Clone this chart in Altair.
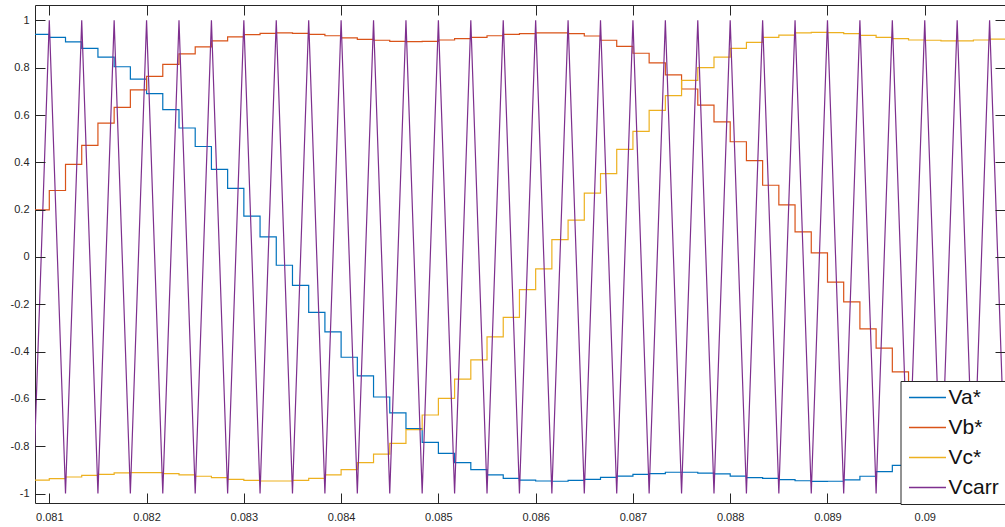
import altair as alt
import numpy as np
import pandas as pd

# Sample clock: the references are held between carrier peaks and valleys
# (3 kHz triangular carrier -> a new sample every 1/6000 s).
T_HALF = 1.0 / 6000.0
T_FIRST = 0.081 - T_HALF

# Held modulating references (third-harmonic injected), one value per sample
va = [0.941, 0.928, 0.909, 0.882, 0.845, 0.804, 0.752, 0.690, 0.623, 0.545,
      0.467, 0.370, 0.290, 0.173, 0.085, -0.035, -0.120, -0.234, -0.317, -0.424,
      -0.503, -0.592, -0.659, -0.726, -0.784, -0.830, -0.869, -0.899, -0.921, -0.936,
      -0.943, -0.947, -0.948, -0.944, -0.940, -0.932, -0.926, -0.919, -0.916, -0.910,
      -0.910, -0.914, -0.917, -0.926, -0.933, -0.936, -0.941, -0.946, -0.949, -0.948,
      -0.942, -0.927, -0.907, -0.881, -0.850, -0.810, -0.765, -0.705, -0.640, -0.570]

vb = [0.199, 0.281, 0.391, 0.472, 0.566, 0.632, 0.706, 0.763, 0.814, 0.858,
      0.888, 0.913, 0.930, 0.940, 0.945, 0.947, 0.945, 0.941, 0.935, 0.926,
      0.920, 0.916, 0.911, 0.910, 0.911, 0.917, 0.923, 0.928, 0.935, 0.941,
      0.944, 0.947, 0.947, 0.944, 0.934, 0.916, 0.890, 0.861, 0.820, 0.770,
      0.710, 0.642, 0.571, 0.487, 0.407, 0.303, 0.220, 0.106, 0.017, -0.106,
      -0.190, -0.304, -0.385, -0.486, -0.570, -0.650, -0.715, -0.775, -0.825, -0.865]

vc = [-0.943, -0.937, -0.930, -0.923, -0.919, -0.913, -0.912, -0.912, -0.916, -0.921,
      -0.927, -0.933, -0.940, -0.944, -0.947, -0.947, -0.944, -0.936, -0.921, -0.899,
      -0.869, -0.833, -0.788, -0.730, -0.668, -0.598, -0.516, -0.435, -0.338, -0.255,
      -0.138, -0.050, 0.073, 0.156, 0.270, 0.352, 0.455, 0.531, 0.620, 0.682,
      0.746, 0.800, 0.845, 0.882, 0.907, 0.928, 0.938, 0.947, 0.949, 0.948,
      0.944, 0.937, 0.928, 0.923, 0.917, 0.916, 0.913, 0.913, 0.917, 0.921]

# Triangular carrier vertices (valley, peak, valley, ...) on the same clock
vcarr = [-1, 1, -1, 1, -1, 1, -1, 1, -1, 1,
         -1, 1, -1, 1, -1, 1, -1, 1, -1, 1,
         -1, 1, -1, 1, -1, 1, -1, 1, -1, 1,
         -1, 1, -1, 1, -1, 1, -1, 1, -1, 1,
         -1, 1, -1, 1, -1, 1, -1, 1, -1, 1,
         -1, 1, -1, 1, -1, 1, -1, 1, -1, 1,
         -1]

series_names = ["Va*", "Vb*", "Vc*", "Vcarr"]
series_colors = ["#0072BD", "#D95319", "#EDB120", "#7E2F8E"]

x_ticks = [0.081, 0.082, 0.083, 0.084, 0.085, 0.086, 0.087, 0.088, 0.089, 0.090]
y_ticks = [-1, -0.8, -0.6, -0.4, -0.2, 0, 0.2, 0.4, 0.6, 0.8, 1]

t_grid = T_FIRST + T_HALF * np.arange(len(vcarr))

ref_rows = []
for name, vals in zip(series_names[:3], [va, vb, vc]):
    held = list(vals) + [vals[-1]]  # close the last hold interval
    for t, v in zip(t_grid, held):
        ref_rows.append({"t": t, "v": v, "series": name})
df_ref = pd.DataFrame(ref_rows)
df_carr = pd.DataFrame({"t": t_grid, "v": vcarr, "series": "Vcarr"})

FONT = "Liberation Sans"
INK = "#262626"

x_scale = alt.Scale(domain=[0.080853, 0.090825], nice=False, zero=False)
y_scale = alt.Scale(domain=[-1.04, 1.065], nice=False, zero=False)
color_scale = alt.Scale(domain=series_names, range=series_colors)

# inward ticks: shift each axis 10 px inside the frame, ticks point back out
common = dict(domain=False, grid=False, ticks=True, tickSize=10, offset=-10,
              tickColor=INK, tickWidth=1, labelFont=FONT, labelFontSize=11,
              labelColor=INK, title=None, zindex=1)

x_bottom = alt.Axis(orient="bottom", values=x_ticks, labelPadding=8,
                    labelExpr="format(datum.value, '.3~f')", **common)
x_top = alt.Axis(orient="top", values=x_ticks, labels=False, **common)
y_left = alt.Axis(orient="left", values=y_ticks, labelPadding=6,
                  labelExpr="replace(format(datum.value, '.1~f'), '\u2212', '-')",
                  **common)
y_right = alt.Axis(orient="right", values=y_ticks, labels=False, **common)

legend = alt.Legend(
    title=None, orient="none", legendX=865.5, legendY=376, direction="vertical",
    fillColor="white", strokeColor=INK, padding=6,
    symbolType="M-2,0L2,0", symbolSize=342, symbolStrokeWidth=1.5,
    symbolOffset=10.5, labelOffset=10.5, rowPadding=8,
    labelFont=FONT, labelFontSize=21, labelColor="#111111", zindex=2,
)

refs = alt.Chart(df_ref).mark_line(
    interpolate="step-after", clip=True, strokeWidth=1.2
).encode(
    x=alt.X("t:Q", scale=x_scale, axis=x_bottom),
    y=alt.Y("v:Q", scale=y_scale, axis=y_left),
    color=alt.Color("series:N", scale=color_scale, legend=legend),
)

carrier = alt.Chart(df_carr).mark_line(clip=True, strokeWidth=1.2).encode(
    x=alt.X("t:Q", scale=x_scale, axis=x_top),
    y=alt.Y("v:Q", scale=y_scale, axis=y_right),
    color=alt.Color("series:N", scale=color_scale, legend=legend),
)

chart = alt.layer(refs, carrier).resolve_axis(
    x="independent", y="independent"
).properties(
    width=970, height=498,
    padding={"left": 35, "top": 5, "right": 0, "bottom": 24},
    autosize=alt.AutoSizeParams(type="none"),
    background="white",
).configure_view(stroke=INK, strokeWidth=1)

chart.save("out.html", embed_options={"renderer": "svg", "actions": False})
